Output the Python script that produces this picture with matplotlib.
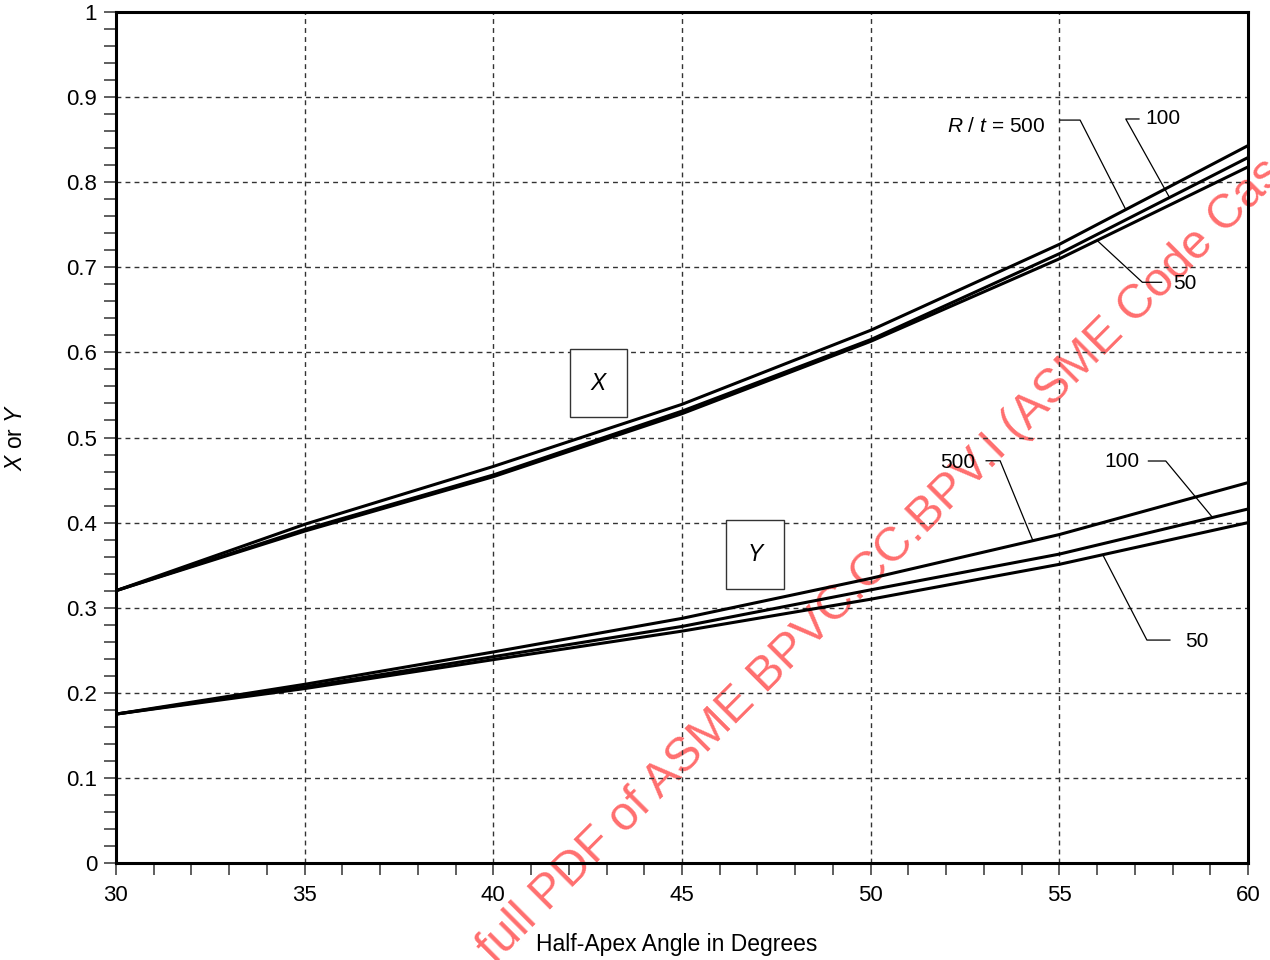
import numpy as np
import matplotlib
matplotlib.use("Agg")
import matplotlib.pyplot as plt
from matplotlib.patches import Rectangle

plt.rcParams["font.family"] = ["Liberation Sans", "DejaVu Sans"]
plt.rcParams["mathtext.fontset"] = "custom"
plt.rcParams["mathtext.rm"] = "Liberation Sans"
plt.rcParams["mathtext.it"] = "Liberation Sans:italic"

# values
angle = [30, 35, 40, 45, 50, 55, 60]
x_500 = [0.320, 0.398, 0.466, 0.539, 0.626, 0.727, 0.843]
x_100 = [0.320, 0.392, 0.456, 0.531, 0.615, 0.716, 0.829]
x_50 = [0.320, 0.390, 0.454, 0.528, 0.613, 0.710, 0.818]
y_500 = [0.175, 0.210, 0.248, 0.2875, 0.3345, 0.386, 0.447]
y_100 = [0.175, 0.207, 0.2425, 0.278, 0.321, 0.363, 0.416]
y_50 = [0.175, 0.205, 0.239, 0.2725, 0.310, 0.351, 0.400]

x_ticks = [30, 35, 40, 45, 50, 55, 60]
y_ticks = [0, 0.1, 0.2, 0.3, 0.4, 0.5, 0.6, 0.7, 0.8, 0.9, 1]

fig = plt.figure(figsize=(12.7, 9.6), dpi=100)
ax = fig.add_axes([0.0913, 0.101, 0.8914, 0.8865])
ax.patch.set_visible(False)

for s in [x_500, x_100, x_50, y_500, y_100, y_50]:
    ax.plot(angle, s, color="black", lw=2.2, solid_capstyle="butt", zorder=3)

ax.set_xlim(30, 60)
ax.set_ylim(0, 1)
ax.set_xticks(x_ticks)
ax.set_xticks(np.arange(30, 61, 1), minor=True)
ax.set_yticks(y_ticks)
ax.set_yticks(np.arange(0, 1.001, 0.02), minor=True)
ax.set_yticklabels([f"{v:g}" for v in y_ticks])
ax.tick_params(which="both", direction="out", length=8.6, width=1.1,
               color="#333333", labelsize=16)
ax.tick_params(axis="x", pad=7)
ax.tick_params(axis="y", pad=5)
ax.grid(True, which="major", color="#333333", lw=1.0, linestyle=(0, (3.5, 3)))
ax.set_axisbelow(True)
for sp in ax.spines.values():
    sp.set_linewidth(2.2)

ax.set_xlabel("Half-Apex Angle in Degrees", fontsize=16.5)
ax.xaxis.set_label_coords(0.495, -0.082)
ax.set_ylabel(r"$X$ or $Y$", fontsize=16.5)
ax.yaxis.set_label_coords(-0.079, 0.5)

# leader lines: (text, text x, text y, ha, elbow start x, elbow end x, elbow y, tip x, series)
leaders = [
    (r"$R$ / $t$ = 500", 54.62, 0.865, "right", 55.02, 55.55, 0.873, 56.76, x_500),
    ("100", 57.27, 0.8743, "left", 57.11, 56.76, 0.8743, 57.92, x_100),
    ("50", 58.01, 0.6815, "left", 57.71, 57.20, 0.6824, 56.0, x_50),
    ("500", 52.77, 0.4704, "right", 53.06, 53.43, 0.4727, 54.30, y_500),
    ("100", 56.19, 0.4724, "left", 57.36, 57.82, 0.4724, 59.06, y_100),
    ("50", 58.33, 0.2609, "left", 57.93, 57.32, 0.262, 56.15, y_50),
]
for txt, tx, ty, ha, e0, e1, ey, tip, s in leaders:
    ax.text(tx, ty, txt, ha=ha, va="center", fontsize=15, zorder=4)
    tip_y = np.interp(tip, angle, s)
    ax.plot([e0, e1, tip], [ey, ey, tip_y], color="black", lw=0.9, zorder=2)

# boxed curve-family labels
for name, x0, x1, y0, y1 in [("X", 42.03, 43.54, 0.524, 0.604),
                             ("Y", 46.17, 47.70, 0.322, 0.403)]:
    ax.add_patch(Rectangle((x0, y0), x1 - x0, y1 - y0, facecolor="white",
                           edgecolor="#333333", lw=1.0, zorder=2))
    ax.text((x0 + x1) / 2, (y0 + y1) / 2, name, ha="center", va="center",
            fontsize=16.5, style="italic", zorder=3)

# watermark, under the chart
fig.text(0.390, -0.005, "full PDF of ASME BPVC.CC.BPV.I (ASME Code Case",
         rotation=45, rotation_mode="anchor", ha="left", va="baseline",
         fontsize=34.5, color="#ff6e6e", zorder=-1)

fig.savefig("out.png", dpi=100)
